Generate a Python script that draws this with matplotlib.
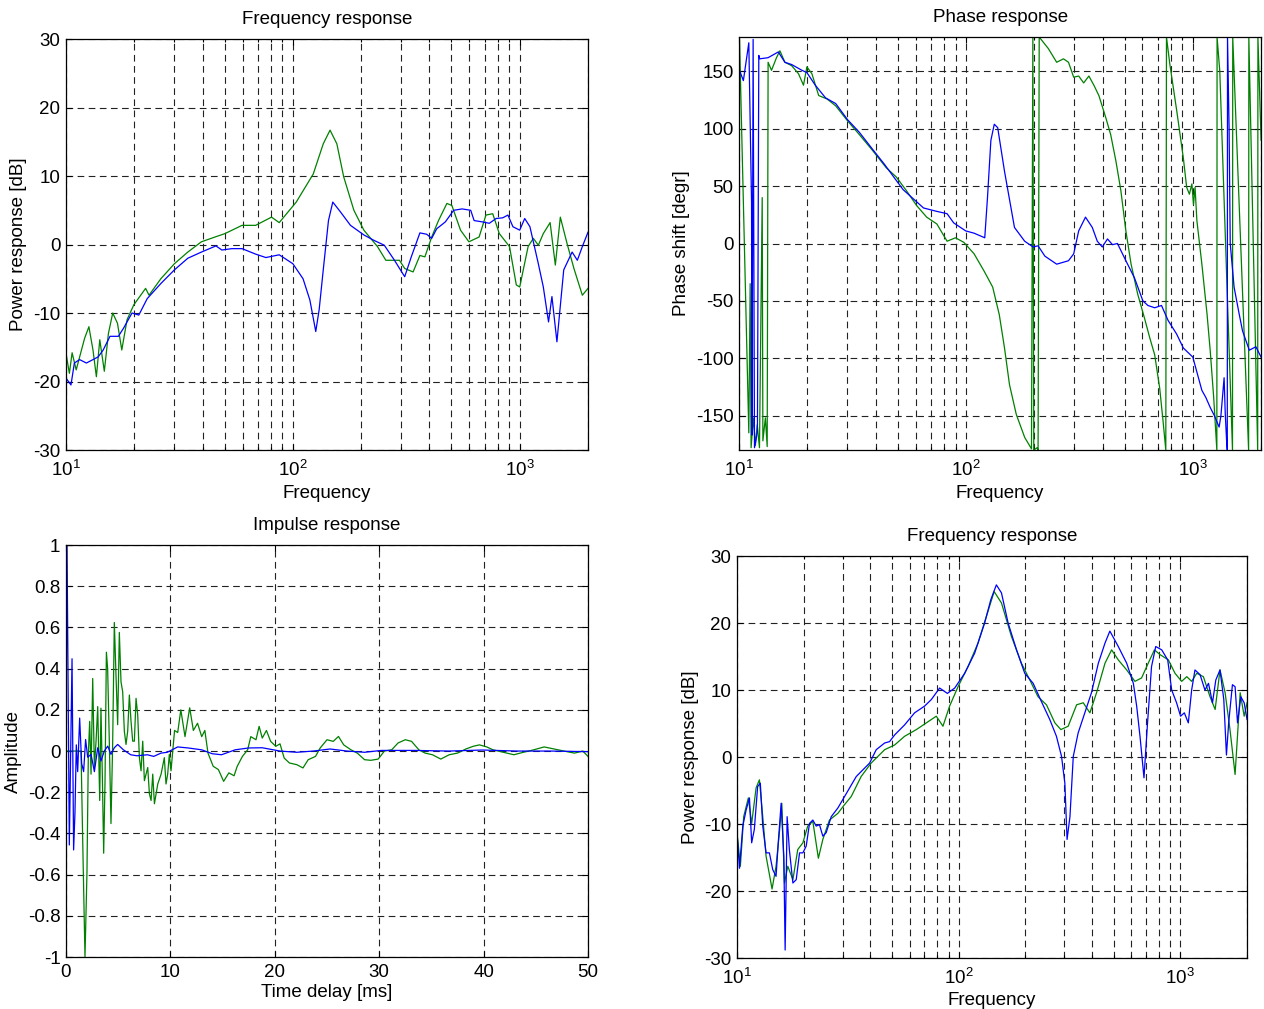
import numpy as np
import matplotlib
matplotlib.use('Agg')
import matplotlib.pyplot as plt
from matplotlib.ticker import LogLocator, NullFormatter, FixedLocator, FuncFormatter

# ---------------- DATA ----------------
# Top-left: frequency response (log10 of frequency in Hz, level in dB)
fr1_green_log10hz = [1.000, 1.015, 1.027, 1.045, 1.082, 1.101, 1.119, 1.134, 1.149, 1.169,
                     1.187, 1.206, 1.227, 1.246, 1.269, 1.299, 1.351, 1.366, 1.418, 1.478,
                     1.537, 1.597, 1.657, 1.701, 1.776, 1.836, 1.906, 1.940, 2.015, 2.090,
                     2.134, 2.164, 2.194, 2.224, 2.269, 2.313, 2.373, 2.410, 2.470, 2.493,
                     2.530, 2.560, 2.582, 2.612, 2.642, 2.679, 2.701, 2.739, 2.776, 2.821,
                     2.851, 2.881, 2.910, 2.955, 2.985, 3.000, 3.037, 3.060, 3.082, 3.104,
                     3.134, 3.157, 3.179, 3.209, 3.239, 3.276, 3.301]
fr1_green_db = [-15.9, -18.8, -15.8, -18.3, -13.7, -12, -15.4, -19.3, -13.9, -18.5,
                -13, -10, -11.5, -15.4, -11, -8.8, -6.4, -7.4, -5, -2.8,
                -1.1, 0.4, 1.1, 1.6, 2.8, 2.8, 4, 3.2, 6.2, 10.3,
                14.7, 16.7, 14.7, 9.9, 5, 2.1, -0.3, -2.3, -2.3, -3.5,
                -4, -1.6, -1.8, 1.1, 3.5, 6, 5.7, 2.1, 0.4, 1.1,
                4.3, 4.5, 1.6, -0.3, -5.9, -6.2, -0.3, 0.9, -0.1, 1.6,
                3.2, -3, 4, 0.1, -3.5, -7.4, -6.4]
fr1_blue_log10hz = [1.000, 1.022, 1.037, 1.060, 1.090, 1.119, 1.142, 1.164, 1.194, 1.231,
                    1.254, 1.291, 1.321, 1.358, 1.418, 1.478, 1.537, 1.597, 1.661, 1.687,
                    1.731, 1.776, 1.836, 1.881, 1.940, 2.000, 2.045, 2.075, 2.101, 2.116,
                    2.134, 2.157, 2.176, 2.209, 2.254, 2.313, 2.358, 2.403, 2.448, 2.493,
                    2.522, 2.560, 2.590, 2.612, 2.634, 2.672, 2.709, 2.746, 2.784, 2.799,
                    2.836, 2.866, 2.896, 2.925, 2.948, 2.970, 3.000, 3.022, 3.045, 3.082,
                    3.104, 3.127, 3.142, 3.164, 3.194, 3.231, 3.254, 3.276, 3.301]
fr1_blue_db = [-19.5, -20.5, -17.3, -16.8, -17.3, -16.8, -16.4, -15.4, -13.4, -13.4,
               -12.2, -10, -10.3, -7.9, -5.7, -3.7, -2, -1.1, -0.2, -0.8,
               -0.6, -0.6, -1.4, -1.9, -1.5, -2.8, -5, -8.1, -12.7, -9.5,
               -3.7, 3.5, 6.2, 4.8, 2.8, 1.4, 0.6, -0.1, -2.3, -4.7,
               -1.8, 1.7, 1.5, 0.9, 2.3, 3.3, 5, 5.2, 5, 3.5,
               3.3, 3.1, 3.8, 3.9, 4.3, 2.6, 2.1, 3.8, 2.6, -2.8,
               -6.2, -11.3, -7.6, -14.2, -3.7, -1.1, -2.3, -0.3, 1.8]

# Top-right: phase response (degrees, wrapped)
ph_blue_log10hz = [1.000, 1.019, 1.043, 1.055, 1.057, 1.062, 1.068, 1.081, 1.087, 1.091,
                   1.128, 1.173, 1.202, 1.232, 1.277, 1.299, 1.336, 1.381, 1.426, 1.478,
                   1.530, 1.589, 1.641, 1.693, 1.723, 1.768, 1.813, 1.872, 1.917, 1.946,
                   1.999, 2.036, 2.083, 2.095, 2.110, 2.125, 2.140, 2.170, 2.214, 2.259,
                   2.296, 2.318, 2.348, 2.400, 2.452, 2.475, 2.497, 2.527, 2.557, 2.579,
                   2.601, 2.624, 2.646, 2.668, 2.705, 2.743, 2.780, 2.802, 2.832, 2.862,
                   2.891, 2.929, 2.958, 3.000, 3.040, 3.057, 3.077, 3.095, 3.116, 3.124,
                   3.138, 3.143, 3.149, 3.152, 3.153, 3.160, 3.165, 3.182, 3.204, 3.219,
                   3.249, 3.278, 3.301]
ph_blue_deg = [152, 142, 175, 36, -167, 178, -178, -164, 164, 161,
               162, 167, 158, 156, 151, 149, 138, 127, 122, 108,
               97, 82, 69, 55, 47, 39, 31, 28, 26, 18,
               11, 9, 5, 40, 90, 104, 101, 63, 14, 2,
               -3, -2, -11, -18, -15, -9, 11, 23, 14, 2,
               -3, 4, -1, 0, -15, -30, -50, -54, -56, -54,
               -67, -79, -91, -99, -128, -134, -143, -150, -160, -150,
               -117, -148, -172, -180, 180, 100, 0, -38, -61, -76,
               -93, -90, -99]
ph_green_log10hz = [1.000, 1.002, 1.043, 1.049, 1.053, 1.063, 1.072, 1.080, 1.090, 1.102,
                    1.105, 1.116, 1.124, 1.128, 1.143, 1.165, 1.180, 1.202, 1.232, 1.262,
                    1.284, 1.299, 1.321, 1.351, 1.388, 1.426, 1.478, 1.530, 1.589, 1.649,
                    1.693, 1.738, 1.783, 1.827, 1.872, 1.917, 1.954, 1.991, 2.036, 2.080,
                    2.118, 2.147, 2.170, 2.192, 2.222, 2.259, 2.289, 2.295, 2.299, 2.314,
                    2.318, 2.323, 2.363, 2.400, 2.430, 2.452, 2.475, 2.497, 2.519, 2.542,
                    2.564, 2.586, 2.616, 2.638, 2.661, 2.683, 2.705, 2.728, 2.757, 2.787,
                    2.810, 2.832, 2.854, 2.869, 2.881, 2.884, 2.899, 2.929, 2.958, 2.973,
                    2.985, 2.996, 3.003, 3.010, 3.018, 3.040, 3.063, 3.077, 3.092, 3.106,
                    3.107, 3.119, 3.175, 3.176, 3.246, 3.247, 3.286, 3.287, 3.301]
ph_green_deg = [-30, 178, -165, -35, -178, -152, -176, -158, -178, 40,
                -172, -152, -177, 158, 151, 162, 168, 158, 155, 148,
                138, 154, 148, 129, 126, 120, 107, 95, 81, 66,
                58, 46, 33, 23, 17, 2, 5, 1, -9, -24,
                -38, -62, -91, -123, -149, -169, -179, 180, -180, -178,
                -180, 180, 170, 158, 161, 158, 145, 146, 140, 146,
                138, 129, 110, 95, 72, 46, 11, -18, -44, -65,
                -82, -97, -126, -155, -180, 180, 156, 116, 75, 49,
                43, 52, 34, 49, 20, -18, -62, -94, -134, -180,
                180, 150, -180, 180, -180, 180, -180, 180, 90]

# Bottom-left: impulse response (time in ms, amplitude)
imp_blue_ms = [0.0, 0.1, 0.32, 0.58, 0.73, 0.86, 0.99, 1.12, 1.31, 1.5,
               1.69, 1.88, 2.08, 2.4, 2.72, 3.04, 3.35, 3.67, 4.0, 4.31,
               4.63, 4.95, 5.5, 6.2, 6.8, 7.8, 8.4, 9.1, 9.7, 10.7,
               11.7, 13.0, 14.0, 14.9, 16.2, 17.5, 18.8, 20.5, 22.1, 23.7,
               25.3, 26.9, 28.6, 30.2, 33.4, 36.7, 39.9, 43.2, 46.4, 50.0]
imp_blue_amp = [0.0, 1.0, -0.456, 0.448, -0.48, -0.30, 0.03, -0.10, 0.16, -0.06,
                -0.10, 0.056, -0.03, -0.016, -0.10, 0.016, -0.048, 0.0, 0.024, -0.016,
                0.016, 0.032, 0.006, -0.018, -0.023, -0.018, -0.026, -0.01, -0.006, 0.02,
                0.015, 0.006, -0.013, -0.018, 0.006, 0.015, 0.016, 0.0, -0.006, 0.0,
                0.01, 0.0, -0.006, 0.003, 0.003, 0.0, 0.005, 0.0, 0.0, -0.003]
imp_green_ms = [0.0, 1.28, 1.44, 1.60, 1.82, 2.01, 2.14, 2.27, 2.40, 2.56,
                2.72, 2.88, 3.04, 3.23, 3.35, 3.48, 3.61, 3.74, 3.87, 3.99,
                4.15, 4.31, 4.47, 4.63, 4.79, 4.95, 5.11, 5.27, 5.43, 5.59,
                5.75, 5.91, 6.07, 6.23, 6.39, 6.55, 6.71, 6.87, 7.03, 7.19,
                7.35, 7.51, 7.83, 7.99, 8.15, 8.31, 8.47, 8.79, 9.11, 9.42,
                9.58, 9.74, 9.90, 10.06, 10.4, 10.7, 11.0, 11.4, 11.85, 12.2,
                12.6, 13.0, 13.3, 13.6, 14.1, 14.6, 15.1, 15.6, 16.1, 16.4,
                16.9, 17.4, 17.7, 18.2, 18.5, 18.8, 19.2, 19.6, 20.1, 20.5,
                20.9, 21.4, 22.1, 22.7, 23.2, 23.9, 24.35, 25.0, 25.6, 26.1,
                26.6, 27.3, 27.9, 28.6, 29.2, 29.9, 30.5, 31.2, 31.8, 32.5,
                33.1, 33.8, 34.4, 35.1, 35.9, 36.7, 37.5, 38.3, 39.0, 39.6,
                40.3, 40.9, 41.9, 42.9, 43.8, 44.8, 45.8, 46.75, 47.7, 48.7,
                49.5, 50.0]
imp_green_amp = [0.0, 0.0, 0.0, -0.43, -1.0, -0.59, -0.016, 0.144, -0.112, 0.352,
                 -0.08, 0.048, 0.216, -0.24, 0.208, -0.112, -0.496, -0.144, 0.48, 0.40,
                 0.048, -0.352, 0.032, 0.624, 0.368, 0.128, 0.576, 0.336, 0.288, 0.096,
                 0.032, 0.096, 0.272, 0.144, 0.048, 0.048, 0.256, 0.176, -0.032, -0.096,
                 0.048, -0.144, -0.08, -0.208, -0.24, -0.112, -0.256, -0.16, -0.112, -0.032,
                 -0.16, -0.112, -0.016, -0.096, 0.10, 0.09, 0.2, 0.07, 0.21, 0.1,
                 0.135, 0.07, 0.1, -0.01, -0.074, -0.09, -0.147, -0.106, -0.12, -0.074,
                 -0.026, 0.006, 0.07, 0.055, 0.12, 0.063, 0.10, 0.047, 0.023, 0.035,
                 -0.034, -0.058, -0.066, -0.082, -0.042, -0.026, 0.015, 0.055, 0.047, 0.071,
                 0.03, 0.006, -0.01, -0.042, -0.045, -0.039, 0.0, 0.006, 0.039, 0.055,
                 0.047, 0.006, -0.01, -0.018, -0.039, -0.018, -0.01, 0.01, 0.023, 0.03,
                 0.02, 0.006, -0.006, -0.018, -0.006, 0.006, 0.02, 0.01, 0.0, -0.01,
                 0.0, -0.026]

# Bottom-right: second frequency response
fr2_blue_log10hz = [1.000, 1.011, 1.026, 1.041, 1.056, 1.066, 1.078, 1.093, 1.105, 1.116,
                    1.131, 1.146, 1.161, 1.176, 1.187, 1.199, 1.211, 1.217, 1.226, 1.236,
                    1.252, 1.267, 1.282, 1.297, 1.312, 1.327, 1.342, 1.357, 1.372, 1.387,
                    1.402, 1.425, 1.455, 1.485, 1.508, 1.538, 1.568, 1.598, 1.628, 1.666,
                    1.688, 1.711, 1.756, 1.801, 1.846, 1.877, 1.914, 1.949, 1.982, 2.027,
                    2.072, 2.117, 2.145, 2.170, 2.193, 2.223, 2.261, 2.298, 2.336, 2.373,
                    2.411, 2.441, 2.464, 2.479, 2.489, 2.502, 2.517, 2.539, 2.569, 2.599,
                    2.630, 2.660, 2.682, 2.720, 2.758, 2.788, 2.803, 2.818, 2.836, 2.851,
                    2.870, 2.889, 2.916, 2.943, 2.961, 2.983, 3.001, 3.018, 3.036, 3.051,
                    3.066, 3.089, 3.111, 3.127, 3.145, 3.160, 3.179, 3.196, 3.208, 3.218,
                    3.235, 3.247, 3.258, 3.273, 3.288, 3.301]
fr2_blue_db = [-11.3, -16.6, -10.3, -7.9, -6.1, -12.8, -10.8, -4.4, -3.9, -10.3,
               -14.3, -14.3, -16.8, -17.8, -12.3, -6.9, -14.8, -28.8, -8.9, -13.8,
               -18.8, -18.3, -14.3, -14.3, -13.3, -9.9, -9.4, -10.3, -10.1, -11.8,
               -11.3, -8.9, -7.6, -5.9, -4.6, -2.9, -1.9, -0.9, 1.1, 2.1,
               2.3, 3.3, 4.8, 6.6, 7.6, 8.6, 10.3, 9.5, 10.3, 12.5,
               15.5, 20, 23.5, 25.7, 24.5, 20, 16, 12.5, 11, 8.3,
               5.6, 3.1, 0.1, -3.9, -12.3, -8.9, 0.1, 3.6, 6.6, 9.6,
               14, 17, 18.8, 16.5, 14, 11, 7.6, 3.1, -3.1, 4.6,
               13.5, 16.5, 16, 14.5, 10, 8.1, 6.1, 6.6, 5.1, 10,
               13, 12.3, 10, 11, 8.1, 11.5, 13, 8.6, 0.3, 5.1,
               10.8, 10.5, 5.1, 9, 8.1, 5.6]
fr2_green_log10hz = [1.000, 1.015, 1.030, 1.051, 1.066, 1.086, 1.101, 1.116, 1.131, 1.158,
                     1.176, 1.191, 1.202, 1.214, 1.229, 1.252, 1.274, 1.297, 1.319, 1.342,
                     1.367, 1.387, 1.417, 1.455, 1.485, 1.515, 1.560, 1.605, 1.666, 1.711,
                     1.756, 1.809, 1.854, 1.899, 1.929, 1.959, 1.997, 2.042, 2.087, 2.125,
                     2.160, 2.193, 2.238, 2.283, 2.321, 2.358, 2.396, 2.434, 2.461, 2.494,
                     2.532, 2.562, 2.592, 2.622, 2.660, 2.690, 2.720, 2.758, 2.795, 2.825,
                     2.855, 2.883, 2.908, 2.946, 2.976, 3.006, 3.029, 3.051, 3.074, 3.104,
                     3.134, 3.157, 3.179, 3.202, 3.224, 3.247, 3.270, 3.288, 3.301]
fr2_green_db = [-11.3, -16.3, -8.9, -6.1, -9.9, -4.6, -3.4, -8.9, -14.8, -19.7,
                -16.3, -11.3, -6.9, -18.8, -16.3, -18.3, -13.8, -12.8, -10.3, -9.6,
                -15.1, -12.3, -9.4, -8.4, -7.1, -5.9, -2.9, -0.9, 1.1, 1.8,
                3.1, 4.1, 5.1, 6.1, 4.6, 7.6, 10.5, 13.5, 17, 21,
                24.7, 23, 18, 14, 11.5, 9, 7.8, 5.1, 4.1, 4.6,
                7.8, 8.1, 6.6, 9.6, 14, 16, 14.5, 13, 11.3, 11.8,
                14, 16, 15.3, 14.5, 12.5, 11.3, 12, 11.3, 12.5, 12,
                9, 7.1, 13, 9.6, 4.1, -2.6, 9.6, 6.1, 8.1]

# Axis texts
titles = ['Frequency response', 'Phase response', 'Impulse response', 'Frequency response']
xlabels = ['Frequency', 'Frequency', 'Time delay [ms]', 'Frequency']
ylabels = ['Power response [dB]', 'Phase shift [degr]', 'Amplitude', 'Power response [dB]']

# ---------------- STYLE ----------------
plt.rcParams.update({
    'font.family': ['Liberation Sans', 'DejaVu Sans'],
    'font.size': 13.5,
    'mathtext.fontset': 'custom',
    'mathtext.rm': 'Liberation Sans',
    'mathtext.default': 'regular',
    'axes.unicode_minus': False,
})
BLUE = '#0000ff'
GREEN = '#008000'
LW = 0.9

fig = plt.figure(figsize=(12.64, 10.09), dpi=100)
ax_tl = fig.add_axes([0.0522, 0.5540, 0.4130, 0.4073])
ax_tr = fig.add_axes([0.5847, 0.5540, 0.4130, 0.4093])
ax_bl = fig.add_axes([0.0522, 0.0515, 0.4130, 0.4083])
ax_br = fig.add_axes([0.5831, 0.0505, 0.4035, 0.3984])

gridkw = dict(color='#222222', linestyle=(0, (6, 4)), linewidth=0.8)


def style(ax, logx):
    ax.set_axisbelow(True)
    if logx:
        ax.set_xscale('log')
        ax.xaxis.set_major_locator(LogLocator(base=10, numticks=10))
        ax.xaxis.set_minor_locator(LogLocator(base=10, subs=np.arange(2, 10), numticks=10))
        ax.xaxis.set_minor_formatter(NullFormatter())
        ax.grid(True, which='both', axis='x', **gridkw)
    else:
        ax.grid(True, which='major', axis='x', **gridkw)
    ax.grid(True, which='major', axis='y', **gridkw)
    ax.tick_params(which='both', direction='in', top=True, right=True, width=0.8, pad=4)
    ax.tick_params(axis='x', which='major', pad=7 if logx else 5)
    ax.tick_params(which='major', length=4)
    ax.tick_params(which='minor', length=2.5)
    for s in ax.spines.values():
        s.set_linewidth(0.9)


def hz(logs):
    return 10 ** np.asarray(logs)


# Top-left
ax = ax_tl
style(ax, True)
ax.plot(hz(fr1_green_log10hz), fr1_green_db, color=GREEN, lw=LW)
ax.plot(hz(fr1_blue_log10hz), fr1_blue_db, color=BLUE, lw=LW)
ax.set_xlim(10, 2000)
ax.set_ylim(-30, 30)
ax.yaxis.set_major_locator(FixedLocator(np.arange(-30, 31, 10)))

# Top-right
ax = ax_tr
style(ax, True)
ax.plot(hz(ph_green_log10hz), ph_green_deg, color=GREEN, lw=LW)
ax.plot(hz(ph_blue_log10hz), ph_blue_deg, color=BLUE, lw=LW)
ax.set_xlim(10, 2000)
ax.set_ylim(-180, 180)
ax.yaxis.set_major_locator(FixedLocator(np.arange(-150, 151, 50)))

# Bottom-left
ax = ax_bl
style(ax, False)
ax.plot(imp_green_ms, imp_green_amp, color=GREEN, lw=LW)
ax.plot(imp_blue_ms, imp_blue_amp, color=BLUE, lw=LW)
ax.set_xlim(0, 50)
ax.set_ylim(-1, 1)
ax.xaxis.set_major_locator(FixedLocator(np.arange(0, 51, 10)))
ax.yaxis.set_major_locator(FixedLocator(np.round(np.arange(-1, 1.01, 0.2), 1)))
ax.yaxis.set_major_formatter(FuncFormatter(lambda v, p: '%g' % (round(v, 1) + 0.0)))

# Bottom-right
ax = ax_br
style(ax, True)
ax.plot(hz(fr2_green_log10hz), fr2_green_db, color=GREEN, lw=LW)
ax.plot(hz(fr2_blue_log10hz), fr2_blue_db, color=BLUE, lw=LW)
ax.set_xlim(10, 2000)
ax.set_ylim(-30, 30)
ax.yaxis.set_major_locator(FixedLocator(np.arange(-30, 31, 10)))

for ax, t, xl, yl in zip([ax_tl, ax_tr, ax_bl, ax_br], titles, xlabels, ylabels):
    ax.set_title(t, fontsize=13.5, pad=10.5)
    ax.set_ylabel(yl, labelpad=4)
ax_tl.set_xlabel(xlabels[0], labelpad=4)
ax_tr.set_xlabel(xlabels[1], labelpad=4)
ax_bl.set_xlabel(xlabels[2], labelpad=2)
ax_br.set_xlabel(xlabels[3], labelpad=3)

fig.savefig('out.png', dpi=100, facecolor='white')
